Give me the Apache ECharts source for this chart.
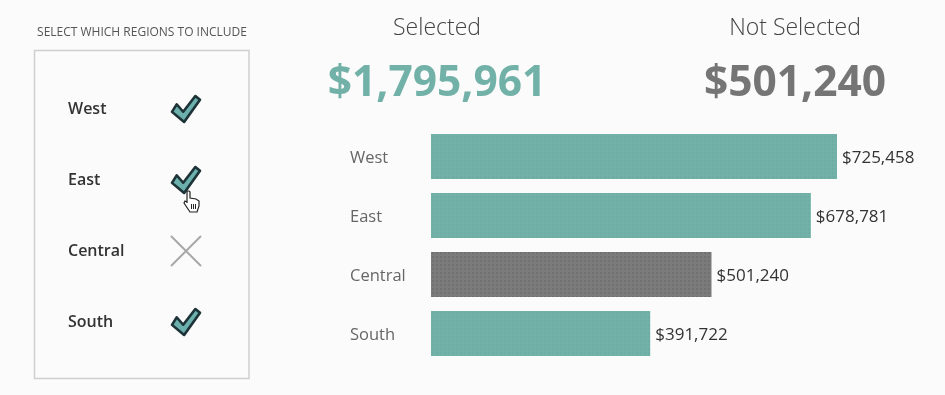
<!DOCTYPE html>
<html><head><meta charset="utf-8">
<style>html,body{margin:0;padding:0;background:#fbfbfb}#c{width:945px;height:395px}</style>
<script src="https://cdn.jsdelivr.net/npm/echarts@6/dist/echarts.min.js"></script>
</head><body><div id="c"></div>
<script>
const regions = ['West', 'East', 'Central', 'South'];
const sales = [725458, 678781, 501240, 391722];
const included = [true, true, false, true];
const selectedTotal = '$1,795,961';
const notSelectedTotal = '$501,240';
const panelTitle = 'SELECT WHICH REGIONS TO INCLUDE';

const TEAL = '#72b1a8', GRAY = '#7b7b7b';
const FONT = '"Open Sans", "Noto Sans", sans-serif';
const money = v => '$' + v.toLocaleString('en-US');
const CHECK = 'path://M0 17 L5 9 L12 17 L25 0 L30 4 L13 28 Z';
const CROSS = 'path://M0 0 L30 30 M30 0 L0 30';
const dots = c => ({symbol: 'rect', symbolSize: 1, dashArrayX: [2, 2], dashArrayY: [2, 2], color: c});

const chart = echarts.init(document.getElementById('c'), null, {renderer: 'canvas'});
chart.setOption({
  animation: false,
  backgroundColor: '#fbfbfb',
  textStyle: {fontFamily: FONT},
  title: [
    {text: 'Selected', left: 432, top: 12, textAlign: 'center',
     textStyle: {fontFamily: FONT, fontSize: 23, fontWeight: 300, color: '#444'}},
    {text: 'Not Selected', left: 790, top: 12, textAlign: 'center',
     textStyle: {fontFamily: FONT, fontSize: 23, fontWeight: 300, color: '#444'}},
    {text: selectedTotal, left: 432, top: 57, textAlign: 'center',
     textStyle: {fontFamily: FONT, fontSize: 42.5, fontWeight: 700, color: TEAL}},
    {text: notSelectedTotal, left: 790, top: 57, textAlign: 'center',
     textStyle: {fontFamily: FONT, fontSize: 42.5, fontWeight: 700, color: '#757575'}},
    {text: panelTitle, left: 137, top: 22, textAlign: 'center',
     textStyle: {fontFamily: FONT, fontSize: 12, fontWeight: 400, color: '#555'}}
  ],
  grid: [
    {left: 431, top: 127, width: 447.7, height: 236},
    {left: 168, top: 72.5, width: 36, height: 284}
  ],
  xAxis: [
    {gridIndex: 0, type: 'value', min: 0, max: 800000, show: false},
    {gridIndex: 1, type: 'value', min: 0, max: 1, show: false}
  ],
  yAxis: [
    {gridIndex: 0, type: 'category', data: regions, inverse: true,
     axisLine: {show: false}, axisTick: {show: false},
     axisLabel: {align: 'left', verticalAlign: 'top', lineHeight: 4, margin: 81, fontSize: 16.5, color: '#666', fontFamily: FONT}},
    {gridIndex: 1, type: 'category', data: regions, inverse: true,
     axisLine: {show: false}, axisTick: {show: false},
     axisLabel: {align: 'left', verticalAlign: 'top', lineHeight: 2, margin: 100, fontSize: 16, fontWeight: 600, color: '#333', fontFamily: FONT}}
  ],
  series: [
    {type: 'bar', xAxisIndex: 0, yAxisIndex: 0, barWidth: 45,
     data: sales.map((v, i) => ({value: v, itemStyle: {
       color: included[i] ? TEAL : GRAY,
       decal: dots(included[i] ? 'rgba(60,110,100,0.06)' : 'rgba(40,40,40,0.13)')
     }})),
     label: {show: true, position: 'right', distance: 5, offset: [0, 2], fontSize: 17, color: '#333',
             fontFamily: FONT, formatter: p => money(p.value)}},
    {type: 'scatter', xAxisIndex: 1, yAxisIndex: 1,
     data: regions.map((r, i) => ({
       value: [0.5, r],
       symbol: included[i] ? CHECK : CROSS,
       symbolSize: included[i] ? [28, 26] : [30, 30],
       symbolOffset: [0, 1],
       itemStyle: included[i]
         ? {color: '#6bb0ad', borderColor: '#1d3338', borderWidth: 2.5, borderJoin: 'round', opacity: 1}
         : {color: 'none', borderColor: '#a8a8a8', borderWidth: 2, opacity: 1}
     }))}
  ],
  graphic: [
    {type: 'rect', z: -1, shape: {x: 34.5, y: 50.5, width: 214.5, height: 328},
     style: {fill: 'none', stroke: '#cfcfcf', lineWidth: 1.5}},
    {type: 'group', z: 10, x: 185, y: 191, children: [
      {type: 'polygon', z: 10, shape: {points: [[2,0],[4,0],[5,1],[5,7],[11,8],[14,10],[14,15],[12,21],[5,21],[3,18],[-1,12],[0,10],[2,11],[2,12]]},
       style: {fill: '#fff', stroke: '#222', lineWidth: 1.2}},
      {type: 'line', z: 11, shape: {x1: 6.5, y1: 13, x2: 6.5, y2: 18}, style: {stroke: '#222', lineWidth: 1}},
      {type: 'line', z: 11, shape: {x1: 8.5, y1: 13, x2: 8.5, y2: 18}, style: {stroke: '#222', lineWidth: 1}},
      {type: 'line', z: 11, shape: {x1: 10.5, y1: 13, x2: 10.5, y2: 18}, style: {stroke: '#222', lineWidth: 1}}
    ]}
  ]
});
</script></body></html>
